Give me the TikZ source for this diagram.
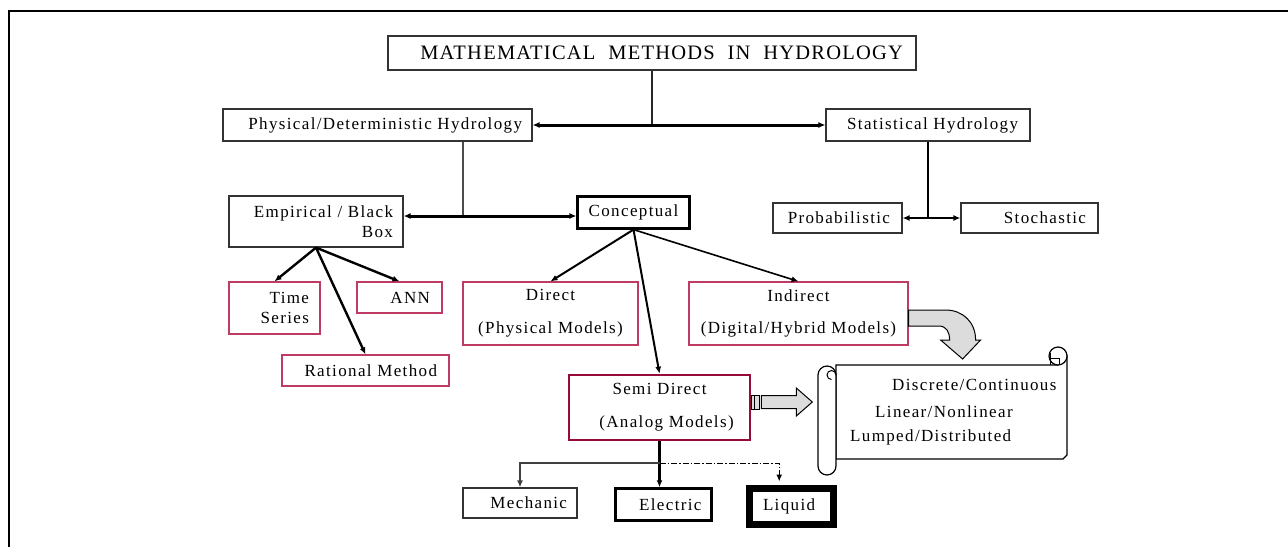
\documentclass[tikz,border=0pt]{standalone}
\usepackage{fontspec}
\setmainfont{Liberation Serif}
\newfontfamily\lsfont[LetterSpace=8]{Liberation Serif}
\newfontfamily\ttlfont[LetterSpace=6]{Liberation Serif}
\usetikzlibrary{arrows.meta,calc}
\definecolor{redbox}{RGB}{190,60,100}
\definecolor{semired}{RGB}{150,10,60}
\definecolor{blockgray}{RGB}{220,220,220}
\tikzset{
  bx/.style={draw=black!80, line width=1.2pt, inner ysep=0pt, text=black,
    font=\lsfont\fontsize{17}{20}\selectfont},
  rbx/.style={bx, draw=redbox},
  tip/.style={-{Latex[length=7pt,width=6pt]}},
  bitip/.style={{Latex[length=7pt,width=6pt]}-{Latex[length=7pt,width=6pt]}},
  thinln/.style={line width=1.3pt, draw=black!85},
  fanarr/.style={tip, line width=2pt},
  bigarr/.style={bitip, line width=3pt},
  midarr/.style={bitip, line width=2.2pt},
  blockarr/.style={draw=black, line width=1pt, fill=blockgray},
  scrollln/.style={draw=black, line width=1.2pt, fill=white},
  scrolltxt/.style={anchor=west, inner sep=0pt, font=\lsfont\fontsize{17}{20}\selectfont}
}
\begin{document}
\begin{tikzpicture}[x=1pt,y=-1pt]
\useasboundingbox (0,0) rectangle (1288,547);
% frame
\draw[line width=2pt] (9,547) -- (9,11) -- (1288,11);

% nodes
\node[bx, minimum width=528pt, minimum height=34pt, text width=502pt, inner xsep=13pt, align=right,
  font=\ttlfont\fontsize{20.5}{24}\selectfont] (title) at (652,53)
  {MATHEMATICAL\hspace{6pt} METHODS\hspace{6pt} IN\hspace{6pt} HYDROLOGY};
\node[bx, minimum width=309pt, minimum height=32pt, text width=289pt, inner xsep=10pt, align=right] (phys) at (377.5,125) {Physical/Deterministic Hydrology};
\node[bx, minimum width=204pt, minimum height=32pt, text width=180pt, inner xsep=12pt, align=right] (stat) at (928,125) {Statistical Hydrology};
\node[bx, minimum width=174pt, minimum height=51pt, text width=154pt, inner xsep=10pt, align=right] (emp) at (316,221.5) {Empirical / Black\\Box};
\node[bx, line width=2.2pt, draw=black, minimum width=112pt, minimum height=32pt, text width=100pt, inner xsep=6pt, align=center] (conc) at (633.5,212.5) {Conceptual};
\node[bx, minimum width=129pt, minimum height=30pt, text width=105pt, inner xsep=12pt, align=right] (prob) at (837.5,218) {Probabilistic};
\node[bx, minimum width=137pt, minimum height=30pt, text width=113pt, inner xsep=12pt, align=right] (stoch) at (1029.5,218) {Stochastic};
\node[rbx, minimum width=91pt, minimum height=52pt, text width=69pt, inner xsep=11pt, align=right] (ts) at (274.5,308) {Time\\Series};
\node[rbx, minimum width=85pt, minimum height=31pt, text width=61pt, inner xsep=12pt, align=right] (ann) at (399.5,297.5) {ANN};
\node[rbx, minimum width=167pt, minimum height=31pt, text width=143pt, inner xsep=12pt, align=right] (rat) at (365.5,370.5) {Rational Method};
\node[rbx, minimum width=175pt, minimum height=63pt, text width=165pt, inner xsep=5pt, align=center,
  font=\lsfont\fontsize{17}{33}\selectfont] (direct) at (550.5,313.5) {Direct\\(Physical Models)};
\node[rbx, minimum width=219pt, minimum height=63pt, text width=209pt, inner xsep=5pt, align=center,
  font=\lsfont\fontsize{17}{32}\selectfont] (indirect) at (798.5,313.5) {Indirect\\(Digital/Hybrid Models)};
\node[rbx, draw=semired, line width=2.6pt, minimum width=181pt, minimum height=65pt, text width=171pt, inner xsep=5pt, align=center,
  font=\lsfont\fontsize{17}{33}\selectfont] (semi) at (659.5,407.5) {Semi Direct\\\hspace{14pt}(Analog Models)};
\node[bx, minimum width=114pt, minimum height=30pt, text width=94pt, inner xsep=10pt, align=right] (mech) at (520,503) {Mechanic};
\node[bx, draw=black, line width=3pt, minimum width=96pt, minimum height=31.5pt, text width=76pt, inner xsep=10pt, align=right] (elec) at (663.5,504.5) {Electric};
\node[bx, draw=black, line width=7pt, minimum width=84pt, minimum height=36pt, text width=57pt, inner xsep=13.5pt, align=left] (liq) at (791.5,506.5) {Liquid};

% scroll shape
\draw[scrollln] (836,365) -- (1058,365) -- (1067,356) -- (1067,455) -- (1063,459) -- (836,459) -- cycle;
\draw[scrollln] (1058,356) circle[radius=9];
\draw[line width=1pt] (1050,353) -- (1050,365) (1050,358) -- (1059,358) -- (1059,365);
\draw[scrollln] (818,375) -- (818,466) arc[start angle=180,end angle=0,radius=9]
  -- (836,375) arc[start angle=0,end angle=-180,radius=9] -- cycle;
\draw[line width=1pt] (836,375) arc[start angle=0,end angle=-180,radius=4.5] arc[start angle=180,end angle=90,radius=4.5];
\node[scrolltxt] (s1) at (892,385) {Discrete/Continuous};
\node[scrolltxt] (s2) at (875,412) {Linear/Nonlinear};
\node[scrolltxt] (s3) at (850,437) {Lumped/Distributed};

% connectors
\draw[thinln] (title.south) -- (title.south |- phys.east);
\draw[bigarr] (phys.east) -- (stat.west);
\coordinate (j1) at (463,216);
\draw[thinln, draw=black!70, line width=1.2pt] (phys.south -| j1) -- (j1);
\draw[bigarr] (emp.east |- j1) -- (conc.west |- j1);
\draw[line width=2.2pt] (stat.south) -- (stat.south |- prob.east);
\draw[midarr] (prob.east) -- (stoch.west);

\draw[fanarr, line width=2.4pt] (emp.south) -- (ts.north);
\draw[fanarr, line width=2.4pt] (emp.south) -- (ann.north);
\draw[fanarr, line width=2.4pt] (emp.south) -- (rat.north);
\draw[fanarr] (conc.south) -- (direct.north);
\draw[fanarr] (conc.south) -- (semi.north);
\draw[fanarr, line width=1.6pt] (conc.south) -- (indirect.north);

\draw[tip, line width=3pt] (semi.south) -- (semi.south |- elec.north);
\path (semi.south) ++(0,22) coordinate (j3);
\draw[tip, line width=2pt, draw=black!75] (j3) -| (mech.north);
\coordinate (lq) at ($(liq.north west)!0.365!(liq.north east)+(0,-3.5)$);
\draw[tip, line width=1.4pt, dash pattern=on 6pt off 2pt on 1.5pt off 2pt] (j3) -| (lq);

% block arrows
\draw[blockarr, shift={(indirect.east)}] (0,-3.5) -- (37,-3.5) .. controls (54,-3.5) and (67,8.5) .. (67,26.5)
  -- (72,26.5) -- (54,45.5) -- (32,26.5) -- (41,26.5) .. controls (41,18.5) and (38,12.5) .. (30,12.5)
  -- (0,12.5) -- cycle;
\begin{scope}[shift={(semi.east)}]
\draw[blockarr] (0,-12.5) rectangle (3.5,1.5);
\draw[blockarr] (3.5,-12.5) rectangle (8,1.5);
\draw[blockarr] (10,-12) -- (45,-12) -- (45,-19.5) -- (61,-5.5) -- (45,8.5) -- (45,1) -- (10,1) -- cycle;
\end{scope}
\end{tikzpicture}
\end{document}
